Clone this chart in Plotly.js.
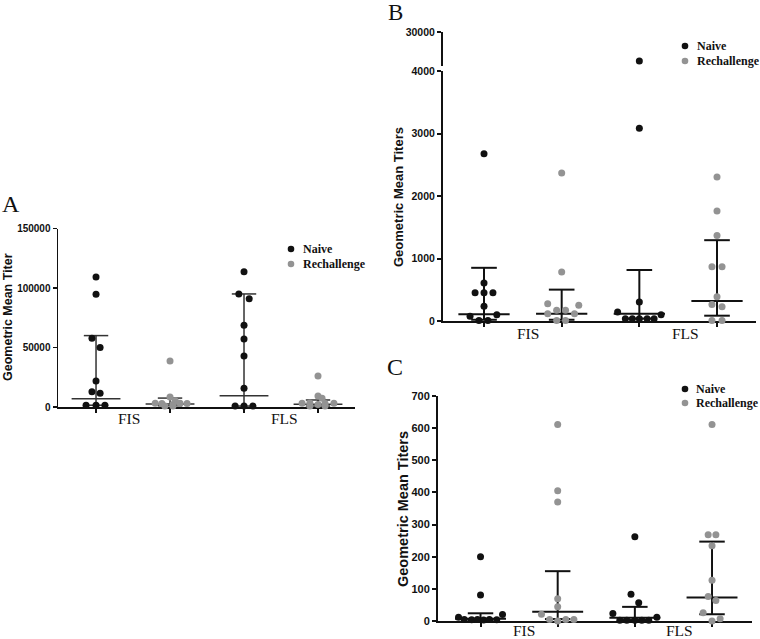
<!DOCTYPE html>
<html>
<head>
<meta charset="utf-8">
<script src="https://cdn.plot.ly/plotly-3.0.1.min.js"></script>
<style>html,body{margin:0;padding:0;background:#fff}#chart{width:760px;height:639px}</style>
</head>
<body>
<div id="chart"></div>
<script>
// ---------- data ----------
const categories = ['FIS', 'FLS'];
const seriesNames = ['Naive', 'Rechallenge'];

// Panel A (Geometric Mean Titer)
const aNaiveFIS = [109200, 94700, 57700, 50100, 21800, 12900, 11500, 1500, 1500, 1500];
const aRechFIS  = [38600, 8500, 5300, 3100, 3000, 3200, 2900, 2000, 800, 800];
const aNaiveFLS = [113700, 95000, 91000, 68600, 57100, 42900, 15700, 800, 800, 800];
const aRechFLS  = [26000, 9200, 7300, 3100, 3300, 3000, 3200, 2200, 800, 800];
const aMedian = [7000, 2600, 9500, 2300];
const aQ1     = [1500, 1000, 800, 800];
const aQ3     = [60000, 7500, 95000, 5900];

// Panel B (Geometric Mean Titers) - broken axis: high value sits on the upper segment
const bNaiveFIS = [2676, 608, 454, 454, 454, 235, 75, 102, 10, 10];
const bRechFIS  = [2367, 784, 278, 251, 171, 171, 117, 117, 10, 10];
const bNaiveFLS = [3085, 304, 144, 102, 38, 38, 38, 38, 38];
const bNaiveFLSHigh = [7800];
const bRechFLS  = [2303, 1760, 1367, 867, 867, 389, 266, 229, 10, 10];
const bMedian = [107, 117, 117, 320];
const bQ1     = [20, 20, 38, 85];
const bQ3     = [851, 502, 816, 1293];

// Panel C (Geometric Mean Titers)
const cNaiveFIS = [200, 81, 20, 12, 5, 4, 5, 3, 5, 4];
const cRechFIS  = [611, 405, 370, 69, 44, 21, 5, 5, 5, 0];
const cNaiveFLS = [262, 83, 57, 23, 12, 2, 2, 2, 2, 2];
const cRechFLS  = [611, 268, 268, 234, 127, 76, 64, 26, 7, 0];
const cMedian = [7, 29, 10, 73];
const cQ1     = [3, 6, 3, 21];
const cQ3     = [24, 155, 44, 247];

// tick values
const aTicks = [0, 50000, 100000, 150000];
const bTicks = [0, 1000, 2000, 3000, 4000];
const bTopTicks = [30000];
const cTicks = [0, 100, 200, 300, 400, 500, 600, 700];

// ---------- layout helpers (positions / styles) ----------
const W = 760, H = 639;
const px = v => v / W;
const py = v => 1 - v / H;
const groupPos = [1, 2, 3, 4];

// horizontal scatter offsets of individual dots (x units) - layout only
const jitter = {
  aNaiveFIS: [0,0,-0.055,0.055,0,-0.055,0.055,-0.135,0,0.12],
  aRechFIS:  [0,0,0.07,-0.2,-0.11,0.135,0.23,0.04,-0.07,0.04],
  aNaiveFLS: [0,-0.07,0.07,0,0,0,0,-0.12,0,0.12],
  aRechFLS:  [0,0,0.055,-0.215,-0.11,0.095,0.215,0,-0.11,0.095],
  bNaiveFIS: [0,0,-0.115,0,0.115,0,-0.18,0.165,-0.065,0.05],
  bRechFIS:  [0,0,-0.18,0.22,-0.065,0.05,-0.18,0.165,-0.065,0.05],
  bNaiveFLS: [0,0,-0.28,0.28,-0.18,-0.09,0,0.1,0.19],
  bNaiveFLSHigh: [0],
  bRechFLS:  [0,0,0,-0.065,0.065,0,-0.065,0.065,-0.065,0.065],
  cNaiveFIS: [0,0,0.285,-0.285,-0.21,-0.115,-0.04,0.04,0.115,0.21],
  cRechFIS:  [0,0,0,0,0,-0.21,-0.105,0.105,0.21,0],
  cNaiveFLS: [0,-0.05,0.05,-0.285,0.285,-0.195,-0.105,0,0.09,0.18],
  cRechFLS:  [0,-0.05,0.05,0,0,-0.05,0.05,-0.115,0.105,0]
};

const BLACK = '#111111', GRAY = '#939393';
const colors = [BLACK, GRAY, BLACK, GRAY];

const traces = [];

function addPanel(groups, jits, med, q1, q3, xa, ya, lineColor, lineWidth, msize) {
  const ex = [], ey = [];
  const mh = 0.33, ch = 0.165;
  for (let g = 0; g < 4; g++) {
    const p = groupPos[g];
    ex.push(p - mh, p + mh, null); ey.push(med[g], med[g], null);
    ex.push(p, p, null); ey.push(q1[g], q3[g], null);
    ex.push(p - ch, p + ch, null); ey.push(q3[g], q3[g], null);
    ex.push(p - ch, p + ch, null); ey.push(q1[g], q1[g], null);
  }
  traces.push({type: 'scatter', mode: 'lines', x: ex, y: ey, xaxis: xa, yaxis: ya,
    line: {color: lineColor, width: lineWidth}, hoverinfo: 'skip', cliponaxis: false, showlegend: false});
  for (let g = 0; g < 4; g++) {
    traces.push({
      type: 'scatter', mode: 'markers',
      x: groups[g].map((v, i) => groupPos[g] + jits[g][i]),
      y: groups[g],
      xaxis: xa, yaxis: ya, cliponaxis: false,
      name: seriesNames[g % 2] + ' ' + categories[Math.floor(g / 2)],
      marker: {color: colors[g], size: msize, line: {width: 0}},
      showlegend: false
    });
  }
}

addPanel([aNaiveFIS, aRechFIS, aNaiveFLS, aRechFLS],
  [jitter.aNaiveFIS, jitter.aRechFIS, jitter.aNaiveFLS, jitter.aRechFLS],
  aMedian, aQ1, aQ3, 'x', 'y', '#333333', 1.5, 7);
addPanel([bNaiveFIS, bRechFIS, bNaiveFLS, bRechFLS],
  [jitter.bNaiveFIS, jitter.bRechFIS, jitter.bNaiveFLS, jitter.bRechFLS],
  bMedian, bQ1, bQ3, 'x2', 'y2', '#111111', 2, 7);
addPanel([cNaiveFIS, cRechFIS, cNaiveFLS, cRechFLS],
  [jitter.cNaiveFIS, jitter.cRechFIS, jitter.cNaiveFLS, jitter.cRechFLS],
  cMedian, cQ1, cQ3, 'x3', 'y3', '#111111', 2, 7);
// upper (broken) segment of panel B's y axis
traces.push({type: 'scatter', mode: 'markers', xaxis: 'x2', yaxis: 'y4', cliponaxis: false,
  x: bNaiveFLSHigh.map((v, i) => groupPos[2] + jitter.bNaiveFLSHigh[i]), y: bNaiveFLSHigh,
  name: seriesNames[0] + ' ' + categories[1],
  marker: {color: BLACK, size: 7, line: {width: 0}}, showlegend: false});

const SANS = 'Liberation Sans, Arial, sans-serif';
const SERIF = 'Liberation Serif, Times New Roman, serif';

function yAxis(domain, range, ticks, size, lw, anchor) {
  return {
    domain: domain, range: range, tickmode: 'array', tickvals: ticks, tickformat: 'd',
    showline: true, linecolor: '#111', linewidth: lw, ticks: 'outside', ticklen: 4, tickwidth: lw,
    tickcolor: '#111', showgrid: false, zeroline: false, anchor: anchor, fixedrange: true,
    layer: 'below traces',
    tickfont: {family: SANS, size: size, color: '#111', weight: 'bold'}
  };
}
function xAxis(domain, range, lw, anchor) {
  return {
    domain: domain, range: range, tickmode: 'array', tickvals: groupPos, showticklabels: false,
    ticks: 'outside', ticklen: 4, tickwidth: lw, tickcolor: '#111',
    showline: true, linecolor: '#111', linewidth: lw, showgrid: false, zeroline: false,
    anchor: anchor, fixedrange: true, layer: 'below traces'
  };
}

const layout = {
  width: W, height: H, margin: {l: 0, r: 0, t: 0, b: 0},
  paper_bgcolor: '#fff', plot_bgcolor: 'rgba(0,0,0,0)', showlegend: false,
  xaxis:  xAxis([px(58), px(355)], [0.486, 4.5], 1.5, 'y'),
  yaxis:  yAxis([py(407), py(228.5)], [0, 150000], aTicks, 10, 1.5, 'x'),
  xaxis2: xAxis([px(443), px(756)], [0.472, 4.502], 2, 'y2'),
  yaxis2: yAxis([py(321), py(71)], [0, 4000], bTicks, 10.5, 2, 'x2'),
  yaxis4: yAxis([py(66), py(32)], [4000, 30000], bTopTicks, 10.5, 2, 'x2'),
  xaxis3: xAxis([px(438), px(752)], [0.449, 4.518], 2, 'y3'),
  yaxis3: yAxis([py(621), py(396)], [0, 700], cTicks, 11, 2, 'x3'),
  annotations: [],
  shapes: []
};

function ann(text, x, y, size, family, opts) {
  layout.annotations.push(Object.assign({
    text: text, xref: 'paper', yref: 'paper', x: px(x), y: py(y), showarrow: false,
    xanchor: 'center', yanchor: 'middle', font: {family: family, size: size, color: '#111'}
  }, opts || {}));
}
// category labels
ann(categories[0], 129, 418, 15.5, SERIF);
ann(categories[1], 284, 418, 15.5, SERIF);
ann(categories[0], 528, 333, 15.5, SERIF);
ann(categories[1], 685, 333, 15.5, SERIF);
ann(categories[0], 524, 630, 15.5, SERIF);
ann(categories[1], 679, 630, 15.5, SERIF);
// axis titles
ann('Geometric Mean Titer', 8, 317, 12.5, SANS, {textangle: -90, font: {family: SANS, size: 12.5, color: '#111', weight: 'bold'}});
ann('Geometric Mean Titers', 398, 197, 13, SANS, {textangle: -90, font: {family: SANS, size: 13, color: '#111', weight: 'bold'}});
ann('Geometric Mean Titers', 403, 509, 14.5, SANS, {textangle: -90, font: {family: SANS, size: 14.5, color: '#111', weight: 'bold'}});
// panel letters
ann('A', 11, 204, 24, SERIF);
ann('B', 396, 12, 23, SERIF);
ann('C', 395, 367, 24, SERIF);

// legends
function legend(dotX, textX, yNaive, yRech) {
  [[yNaive, BLACK, seriesNames[0]], [yRech, GRAY, seriesNames[1]]].forEach(([yy, col, label]) => {
    layout.shapes.push({type: 'circle', xref: 'paper', yref: 'paper', xsizemode: 'pixel', ysizemode: 'pixel',
      xanchor: px(dotX), yanchor: py(yy), x0: -3.3, x1: 3.3, y0: -3.3, y1: 3.3,
      fillcolor: col, line: {width: 0}});
    ann(label, textX, yy, 12, SERIF, {xanchor: 'left', font: {family: SERIF, size: 12, color: '#111', weight: 'bold'}});
  });
}
legend(291, 301, 249, 264);
legend(685, 695, 46, 61);
legend(685, 694, 389, 403);

Plotly.newPlot('chart', traces, layout, {staticPlot: true, displayModeBar: false});
</script>
</body>
</html>
